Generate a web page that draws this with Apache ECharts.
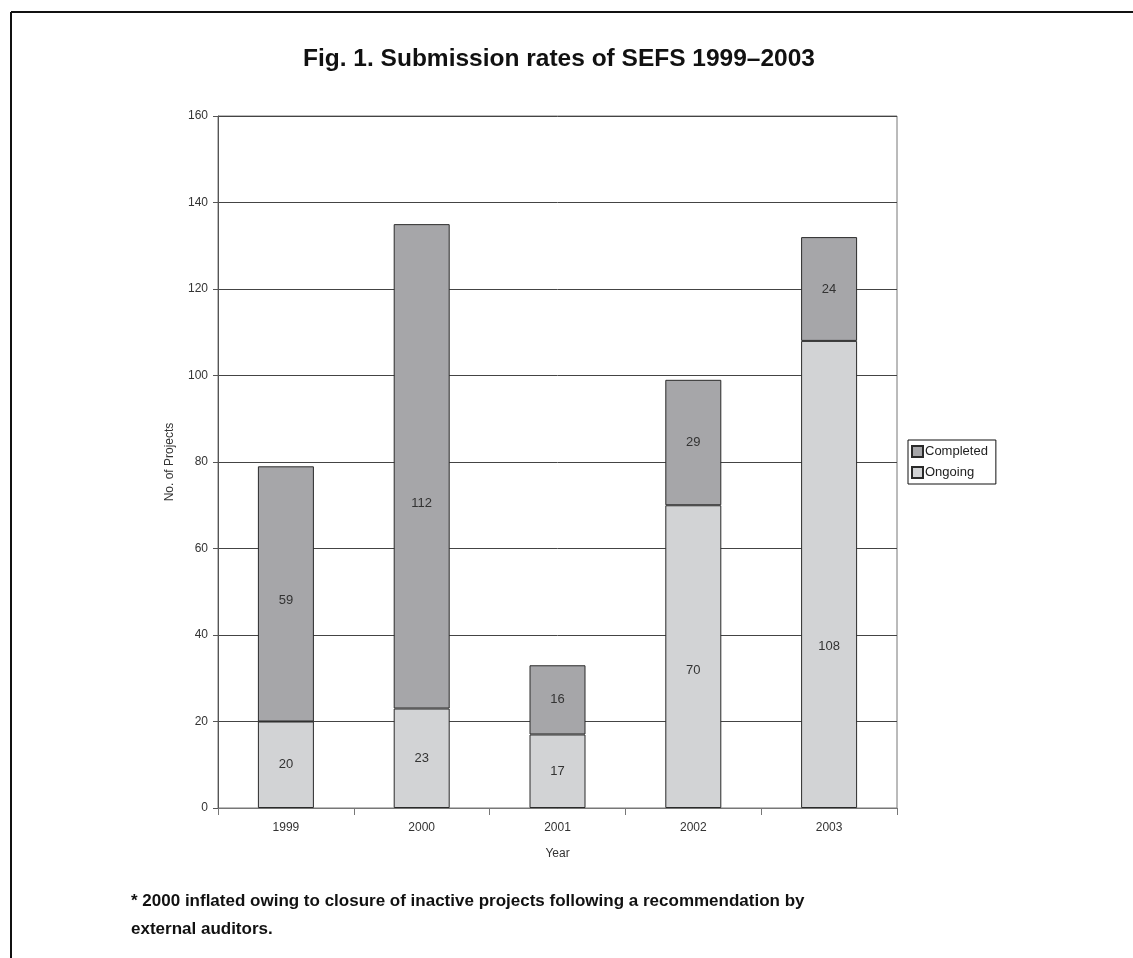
<!DOCTYPE html>
<html>
<head>
<meta charset="utf-8">
<script src="https://cdn.jsdelivr.net/npm/echarts@6/dist/echarts.min.js"></script>
<style>
  html, body { margin: 0; padding: 0; background: #fff; }
  #chart { width: 1133px; height: 958px; }
</style>
</head>
<body>
<div id="chart"></div>
<script>
// Project submissions per year, split by status
const years = ['1999', '2000', '2001', '2002', '2003'];
const ongoing = [20, 23, 17, 70, 108];
const completed = [59, 112, 16, 29, 24];
const yTicks = [0, 20, 40, 60, 80, 100, 120, 140, 160];

// vertical nudge (px) for the value labels inside the taller segments
const ongoingLabelShift = [0, 0, 0, 14, 72];
const completedLabelShift = [7, 37, 0, 0, 0];

const FONT = '"Liberation Sans", Arial, Helvetica, sans-serif';
const chart = echarts.init(document.getElementById('chart'), null, { renderer: 'canvas' });

const barBorder = { borderColor: '#2a2a2a', borderWidth: 1 };
const labelBase = { show: true, position: 'inside', fontFamily: FONT, fontSize: 13, color: '#333' };

function withLabels(values, shifts) {
  return values.map((v, i) => ({
    value: v,
    label: Object.assign({}, labelBase, { offset: [0, shifts[i]] })
  }));
}

chart.setOption({
  animation: false,
  backgroundColor: '#ffffff',
  textStyle: { fontFamily: FONT },
  title: {
    text: 'Fig. 1. Submission rates of SEFS 1999\u20132003',
    left: 554,
    textAlign: 'center',
    top: 42,
    textStyle: { fontFamily: FONT, fontSize: 24.5, fontWeight: 'bold', color: '#111' }
  },
  legend: {
    orient: 'vertical',
    left: 908,
    top: 440,
    data: [
      { name: 'Completed', icon: 'rect' },
      { name: 'Ongoing', icon: 'rect' }
    ],
    itemWidth: 11,
    itemHeight: 11,
    itemGap: 8,
    padding: [5, 8, 5, 3],
    borderColor: '#111',
    borderWidth: 1,
    textStyle: { fontFamily: FONT, fontSize: 13, color: '#222', padding: [0, 0, 0, -3] }
  },
  grid: {
    left: 218,
    top: 116,
    width: 679,
    height: 692,
    show: true,
    borderColor: '#777',
    borderWidth: 1
  },
  xAxis: {
    type: 'category',
    data: years,
    name: 'Year',
    nameLocation: 'middle',
    nameGap: 40,
    nameTextStyle: { fontFamily: FONT, fontSize: 12, color: '#333' },
    axisLine: { lineStyle: { color: '#777', width: 1 } },
    axisTick: { show: true, length: 7, lineStyle: { color: '#777' } },
    axisLabel: { fontFamily: FONT, fontSize: 12, color: '#333', margin: 14 }
  },
  yAxis: {
    type: 'value',
    min: 0,
    max: 160,
    interval: 20,
    name: 'No. of Projects',
    nameLocation: 'middle',
    nameGap: 42,
    nameRotate: 90,
    nameTextStyle: { fontFamily: FONT, fontSize: 12, color: '#333' },
    axisLine: { show: true, lineStyle: { color: '#555', width: 1 } },
    axisTick: { show: true, length: 5, lineStyle: { color: '#555' } },
    axisLabel: {
      fontFamily: FONT, fontSize: 12, color: '#333', margin: 10,
      formatter: v => (yTicks.includes(v) ? String(v) : '')
    },
    splitLine: { show: true, lineStyle: { color: '#444', width: 1 } }
  },
  series: [
    {
      name: 'Ongoing',
      type: 'bar',
      stack: 'total',
      data: withLabels(ongoing, ongoingLabelShift),
      barWidth: 56,
      itemStyle: Object.assign({ color: '#d2d3d5' }, barBorder),
      label: labelBase
    },
    {
      name: 'Completed',
      type: 'bar',
      stack: 'total',
      data: withLabels(completed, completedLabelShift),
      barWidth: 56,
      itemStyle: Object.assign({ color: '#a6a6a9' }, barBorder),
      label: labelBase
    }
  ],
  graphic: [
    // page frame: top and left rules
    { type: 'line', shape: { x1: 11, y1: 12, x2: 1133, y2: 12 }, style: { stroke: '#111', lineWidth: 2 } },
    { type: 'line', shape: { x1: 11, y1: 12, x2: 11, y2: 958 }, style: { stroke: '#111', lineWidth: 2 } },
    {
      type: 'text', left: 131, top: 887,
      style: {
        text: '* 2000 inflated owing to closure of inactive projects following a recommendation by\nexternal auditors.',
        font: 'bold 17px ' + FONT, fill: '#111', lineHeight: 28
      }
    }
  ]
});
</script>
</body>
</html>
